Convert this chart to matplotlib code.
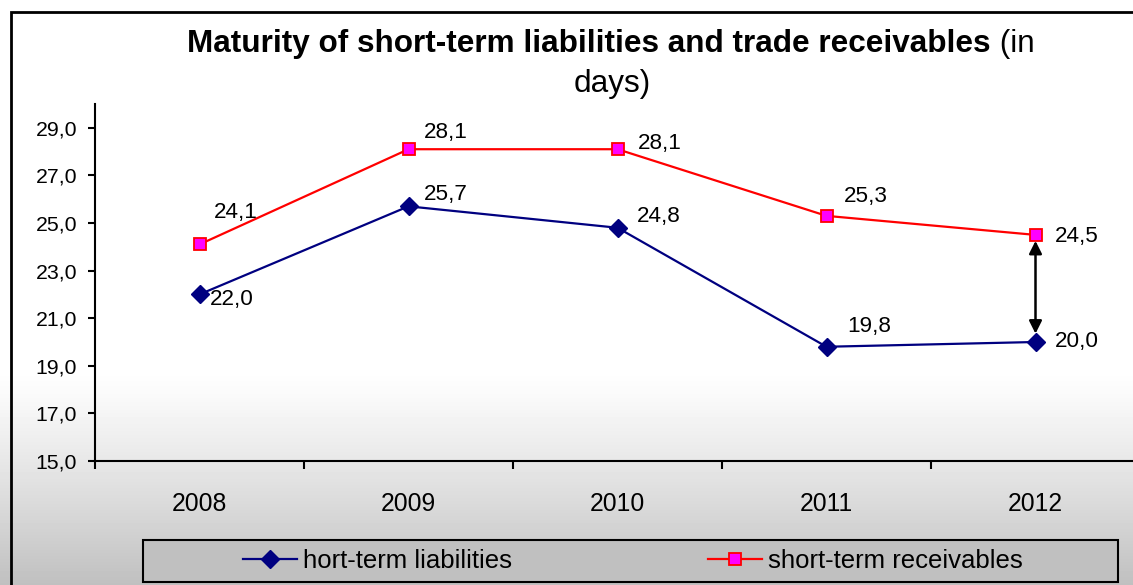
import matplotlib
matplotlib.use("Agg")
import matplotlib.pyplot as plt
import numpy as np
from matplotlib.patches import Rectangle
from matplotlib.lines import Line2D

# data
years = ["2008", "2009", "2010", "2011", "2012"]
liabilities = [22.0, 25.7, 24.8, 19.8, 20.0]
receivables = [24.1, 28.1, 28.1, 25.3, 24.5]
yticks = [15, 17, 19, 21, 23, 25, 27, 29]
legend_labels = ["hort-term liabilities", "short-term receivables"]


def comma(v):
    return f"{v:.1f}".replace(".", ",")


# label offsets in pixels (dx, dy) from each point
liab_offsets = [(10, -5), (15, 12), (19, 11), (21, 20), (19, 0)]
recv_offsets = [(14, 32), (15, 17), (20, 6), (17, 19), (19, -2)]

W, H = 1133, 585
plt.rcParams["font.family"] = ["Liberation Sans", "DejaVu Sans"]
fig = plt.figure(figsize=(W / 100, H / 100), dpi=100)

# white-to-gray background gradient
bg = fig.add_axes([0, 0, 1, 1], zorder=-10)
rows = np.arange(H)
t = np.clip((rows - 370) / (H - 370), 0, 1)
shade = 1 - 0.25 * t ** 1.15
bg.imshow(np.tile(shade[:, None], (1, 2)), cmap="gray", vmin=0, vmax=1,
          aspect="auto", extent=[0, 1, 0, 1], origin="upper")
bg.axis("off")

# outer chart border (runs off the right/bottom edges)
fig.patches.append(Rectangle((11 / W, -0.1), 1.2, (H - 12) / H + 0.1,
                             transform=fig.transFigure, fill=False,
                             ec="black", lw=2))

ax = fig.add_axes([95 / W, (H - 461) / H, 1045 / W, 357 / H])
ax.patch.set_alpha(0)

x = np.arange(len(years))
navy = "#000080"
ax.plot(x, liabilities, color=navy, lw=1.6, marker="D", ms=9,
        mfc=navy, mec=navy, zorder=3)
ax.plot(x, receivables, color="red", lw=1.6, marker="s", ms=8.5,
        mfc="#ff00ff", mec="red", mew=1.3, zorder=3)

for i, v in enumerate(liabilities):
    ax.annotate(comma(v), (i, v), xytext=liab_offsets[i], textcoords="offset pixels",
                ha="left", va="center", fontsize=16.2)
for i, v in enumerate(receivables):
    ax.annotate(comma(v), (i, v), xytext=recv_offsets[i], textcoords="offset pixels",
                ha="left", va="center", fontsize=16.2)

# double arrow showing the gap in the last year
last = len(years) - 1
ax.annotate("", xy=(last, receivables[-1] - 0.25), xytext=(last, liabilities[-1] + 0.35),
            arrowprops=dict(arrowstyle="<|-|>", color="black", lw=1.8,
                            mutation_scale=19, shrinkA=0, shrinkB=0))

ax.set_xlim(-0.5, len(years) - 0.5)
ax.set_ylim(15, 30)
ax.set_yticks(yticks)
ax.set_yticklabels([comma(v) for v in yticks], fontsize=15.3)
ax.set_xticks(np.arange(-0.5, len(years), 1))
ax.set_xticklabels([])
ax.set_xticks(x, minor=True)
ax.set_xticklabels(years, minor=True, fontsize=17.8)
ax.tick_params(axis="x", which="major", direction="out", length=6, width=1.5)
ax.tick_params(axis="x", which="minor", length=0, pad=22)
ax.tick_params(axis="y", direction="out", length=5, width=1.5, pad=8)
for s in ["top", "right"]:
    ax.spines[s].set_visible(False)
for s in ["left", "bottom"]:
    ax.spines[s].set_linewidth(1.5)

# legend box
fig.patches.append(Rectangle((143 / W, (H - 582) / H), (1118 - 143) / W, 42 / H,
                             transform=fig.transFigure, fc="#c0c0c0",
                             ec="black", lw=1.5, zorder=1))
handles = [
    Line2D([], [], color=navy, lw=1.6, marker="D", ms=9, mfc=navy, mec=navy),
    Line2D([], [], color="red", lw=1.6, marker="s", ms=8.5, mfc="#ff00ff", mec="red", mew=1.3),
]
fig.legend(handles, legend_labels, loc="center left",
           bbox_to_anchor=(243 / W, (H - 561) / H), ncol=2, frameon=False,
           fontsize=18.5, handlelength=2.1, handletextpad=0.25, columnspacing=7.6,
           borderpad=0, borderaxespad=0)

# title: bold part + normal "(in days)" wrapping onto a second line
renderer = fig.canvas.get_renderer()
t1 = fig.text(0, (H - 52) / H, "Maturity of short-term liabilities and trade receivables",
              fontsize=22.7, fontweight="bold", ha="left", va="baseline")
t2 = fig.text(0, (H - 52) / H, " (in", fontsize=22.7, ha="left", va="baseline")
w1 = t1.get_window_extent(renderer).width
w2 = t2.get_window_extent(renderer).width
x0 = 611 - (w1 + w2) / 2
t1.set_x(x0 / W)
t2.set_x((x0 + w1) / W)
fig.text(612 / W, (H - 92) / H, "days)", fontsize=22.7, ha="center", va="baseline")

fig.savefig("out.png", dpi=100)
